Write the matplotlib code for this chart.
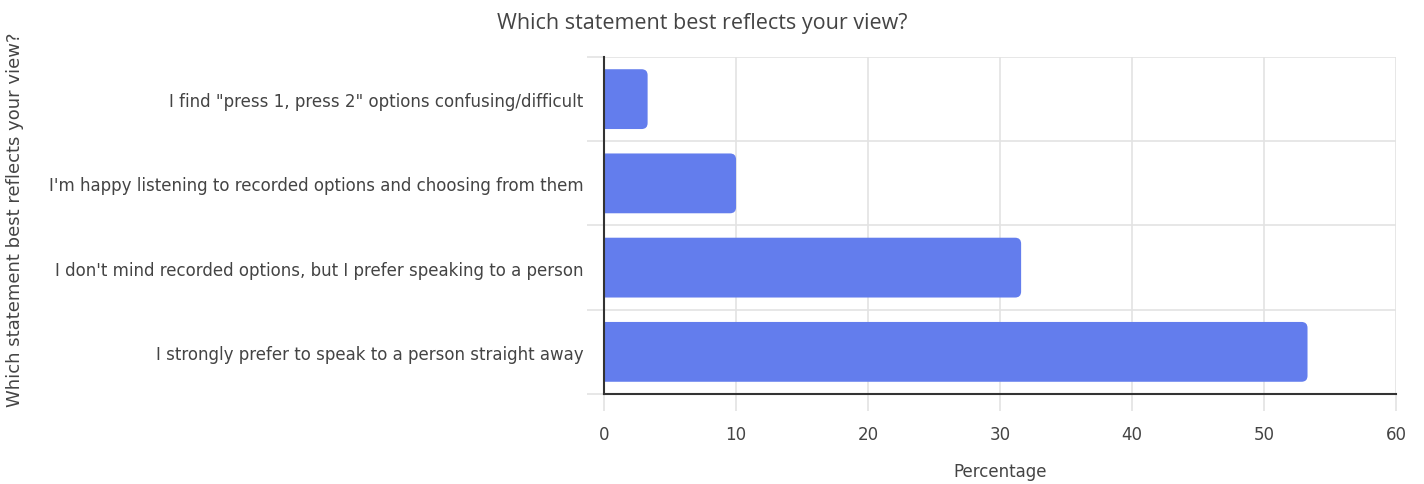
import numpy as np
import matplotlib.pyplot as plt
from matplotlib.patches import FancyBboxPatch

plt.rcParams['font.family'] = ['DejaVu Sans']

# 数据
categories = [
    'I find "press 1, press 2" options confusing/difficult',
    "I'm happy listening to recorded options and choosing from them",
    "I don't mind recorded options, but I prefer speaking to a person",
    'I strongly prefer to speak to a person straight away',
]
percentages = [3.3, 10.0, 31.6, 53.3]
x_ticks = [0, 10, 20, 30, 40, 50, 60]

text_color = '#444444'
grid_color = '#e3e3e3'
bar_color = '#637ded'

fig = plt.figure(figsize=(14.24, 4.85), dpi=100)
ax = fig.add_axes([0.4242, 0.1856, 0.5561, 0.6948])

y = np.arange(len(categories))
bar_h = 0.71
ax.set_xlim(0, 60)
ax.set_ylim(len(categories) - 0.5, -0.5)

# 圆角条形（左侧超出坐标轴后被裁掉，只保留右侧圆角）
px_x = 0.5561 * 1424 / 60            # 每单位 x 的像素
px_y = 0.6948 * 485 / len(categories)  # 每单位 y 的像素
r = 6 / px_x
for yi, v in zip(y, percentages):
    p = FancyBboxPatch((-2 * r, yi - bar_h / 2), v + 2 * r, bar_h,
                       boxstyle=f'round,pad=0,rounding_size={r}',
                       mutation_aspect=px_x / px_y,
                       facecolor=bar_color, edgecolor='none', zorder=3)
    ax.add_patch(p)

# 网格
ax.set_xticks(x_ticks)
ax.set_yticks(y)
ax.set_yticks(np.arange(-0.5, len(categories)), minor=True)
ax.set_yticklabels(categories)
ax.grid(True, axis='x', color=grid_color, lw=1.2, zorder=0)
ax.grid(True, axis='y', which='minor', color=grid_color, lw=1.2, zorder=0)
ax.tick_params(axis='x', length=12, color=grid_color, width=1.2, pad=10,
               labelsize=12, labelcolor=text_color)
ax.tick_params(axis='y', which='major', length=0, pad=15,
               labelsize=12, labelcolor=text_color)
ax.tick_params(axis='y', which='minor', length=12, color=grid_color, width=1.2)

for s in ['top', 'right']:
    ax.spines[s].set_visible(False)
for s in ['left', 'bottom']:
    ax.spines[s].set_color('#333333')
    ax.spines[s].set_linewidth(1.5)
    ax.spines[s].set_zorder(4)

ax.set_xlabel('Percentage', fontsize=12, color=text_color, labelpad=14)
fig.text(0.004, 0.546, 'Which statement best reflects your view?', rotation=90,
         ha='left', va='center', fontsize=13, color=text_color)
fig.text(0.4935, 0.952, 'Which statement best reflects your view?', ha='center', va='center',
         fontsize=15.5, color=text_color, family=['Open Sans', 'DejaVu Sans'])

plt.savefig('out.png', dpi=100)
